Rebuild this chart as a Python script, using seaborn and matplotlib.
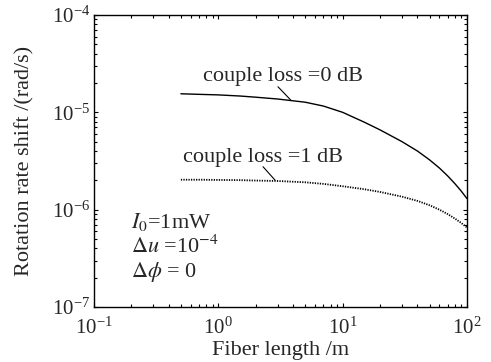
import numpy as np
import pandas as pd
import matplotlib
matplotlib.use("Agg")
import matplotlib.pyplot as plt
import seaborn as sns
from matplotlib.ticker import LogLocator, LogFormatterSciNotation, NullFormatter

# ---- data ----
fiber_length = [0.5, 0.7, 1, 1.5, 2, 3, 5, 7, 10, 15, 20, 30, 40, 50, 60, 70, 80, 90, 100]
shift_loss0 = [1.55e-5, 1.53e-5, 1.51e-5, 1.47e-5, 1.43e-5, 1.37e-5, 1.27e-5, 1.16e-5, 1.0e-5,
               7.9e-6, 6.6e-6, 5.0e-6, 4.0e-6, 3.25e-6, 2.68e-6, 2.22e-6, 1.85e-6, 1.55e-6, 1.3e-6]
shift_loss1 = [2.03e-6, 2.03e-6, 2.02e-6, 2.01e-6, 1.99e-6, 1.97e-6, 1.91e-6, 1.84e-6, 1.74e-6,
               1.62e-6, 1.52e-6, 1.36e-6, 1.23e-6, 1.11e-6, 1.0e-6, 9.0e-7, 8.1e-7, 7.3e-7, 6.55e-7]
series_labels = ["couple loss =0 dB", "couple loss =1 dB"]
x_label = "Fiber length /m"
y_label = "Rotation rate shift /(rad/s)"
param_lines = [r"$I_0$=1mW", r"$\Delta u$ =10$^{-4}$", r"$\Delta\phi$ = 0"]

sns.set_style("ticks")
plt.rcParams["font.family"] = ["Liberation Serif", "DejaVu Serif"]
plt.rcParams["mathtext.fontset"] = "stix"
plt.rcParams["xtick.direction"] = "in"
plt.rcParams["ytick.direction"] = "in"

df0 = pd.DataFrame({"x": fiber_length, "y": shift_loss0})
df1 = pd.DataFrame({"x": fiber_length, "y": shift_loss1})

fig = plt.figure(figsize=(4.91, 3.62), dpi=100)
ax = fig.add_axes([0.1914, 0.152, 0.7596, 0.8066])

sns.lineplot(data=df0, x="x", y="y", ax=ax, color="black", linewidth=1.0)
sns.lineplot(data=df1, x="x", y="y", ax=ax, color="black", linewidth=1.3,
             linestyle=(0, (0.7, 0.7)))

ax.set_xscale("log")
ax.set_yscale("log")
ax.set_xlim(0.1, 100)
ax.set_ylim(1e-7, 1e-4)

ax.xaxis.set_major_locator(LogLocator(base=10, numticks=10))
ax.yaxis.set_major_locator(LogLocator(base=10, numticks=10))
ax.xaxis.set_minor_locator(LogLocator(base=10, subs=np.arange(2, 10), numticks=20))
ax.yaxis.set_minor_locator(LogLocator(base=10, subs=np.arange(2, 10), numticks=20))
ax.xaxis.set_minor_formatter(NullFormatter())
ax.yaxis.set_minor_formatter(NullFormatter())
ax.xaxis.set_major_formatter(LogFormatterSciNotation())
ax.yaxis.set_major_formatter(LogFormatterSciNotation())

ax.tick_params(which="both", top=True, right=True, direction="in", color="black", width=0.8)
ax.tick_params(which="major", length=3, labelsize=15)
ax.tick_params(axis="x", which="major", pad=8)
ax.tick_params(axis="y", which="major", pad=3)
ax.tick_params(which="minor", length=2)
for s in ax.spines.values():
    s.set_color("black")
    s.set_linewidth(1.0)

ax.set_xlabel(x_label, fontsize=16, labelpad=1)
ax.set_ylabel(y_label, fontsize=16, labelpad=12)

# labels with leader lines
ax.text(3.29, 2.31e-5, series_labels[0], fontsize=16, ha="center", va="center")
ax.annotate("", xy=(3.82, 1.34e-5), xytext=(3.02, 1.83e-5),
            arrowprops=dict(arrowstyle="-", color="black", lw=0.8, shrinkA=0, shrinkB=0))
ax.text(2.27, 3.47e-6, series_labels[1], fontsize=16, ha="center", va="center")
ax.annotate("", xy=(2.86, 2.01e-6), xytext=(2.29, 2.76e-6),
            arrowprops=dict(arrowstyle="-", color="black", lw=0.8, shrinkA=0, shrinkB=0))

for i, t in enumerate(param_lines):
    ax.text(0.10, 0.291 - i * 0.086, t, transform=ax.transAxes, fontsize=16,
            ha="left", va="center")

fig.savefig("out.png", dpi=100)
